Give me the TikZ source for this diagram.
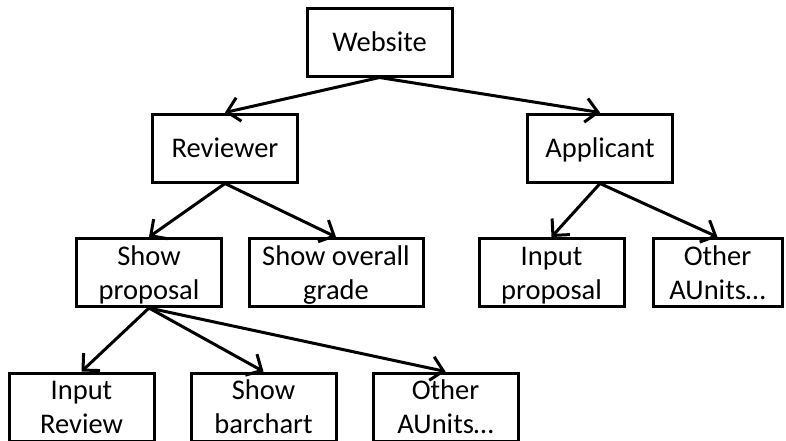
\documentclass[tikz,border=0pt]{standalone}
\usepackage{fontspec}
\setmainfont{Carlito}
\usetikzlibrary{arrows.meta}
\begin{document}
\begin{tikzpicture}[x=1pt,y=-1pt,
  unit/.style={draw=black, line width=3pt, minimum width=145pt, minimum height=68pt,
    inner sep=0pt, align=center, font=\fontsize{28.5}{34}\selectfont,
    text height=19pt, text depth=0pt},
  twoline/.style={text height=53pt},
  link/.style={draw=black, line width=3pt,
    -{Straight Barb[length=12pt,width=24pt,line width=3pt]}}]
  \useasboundingbox (0,0) rectangle (786,440);
  % top level
  \node[unit] (web) at (379.5,42) {Website};
  % roles
  \node[unit] (rev) at (225,148) {Reviewer};
  \node[unit] (app) at (600,148) {Applicant};
  % reviewer units
  \node[unit, twoline] (showprop) at (149,272.5) {Show\\proposal};
  \node[unit, twoline, minimum width=174pt] (grade) at (336,272.5) {Show overall\\grade};
  % applicant units
  \node[unit, twoline] (inprop) at (551.5,272.5) {Input\\proposal};
  \node[unit, twoline, minimum width=129pt] (appother) at (717.5,272.5) {Other\\AUnits…};
  % proposal units
  \node[unit, twoline] (inrev) at (81.5,407) {Input\\Review};
  \node[unit, twoline] (bar) at (263.5,407) {Show\\barchart};
  \node[unit, twoline] (propother) at (445.5,407) {Other\\AUnits…};
  % connectors
  \draw[link] (web.south) -- (rev.north);
  \draw[link] (web.south) -- (app.north);
  \draw[link] (rev.south) -- (showprop.north);
  \draw[link] (rev.south) -- (grade.north);
  \draw[link] (app.south) -- (inprop.north);
  \draw[link] (app.south) -- (appother.north);
  \draw[link] (showprop.south) -- (inrev.north);
  \draw[link] (showprop.south) -- (bar.north);
  \draw[link] (showprop.south) -- (propother.north);
\end{tikzpicture}
\end{document}
